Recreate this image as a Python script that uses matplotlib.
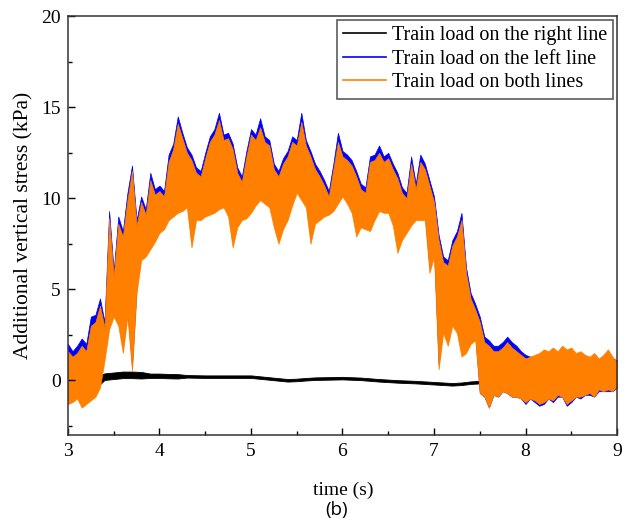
import numpy as np
import matplotlib
matplotlib.use("Agg")
import matplotlib.pyplot as plt

# envelopes, every 0.05 s from 3.00 to 9.00 s
t = np.round(np.arange(3.0, 9.0001, 0.05), 2)

blue_hi = [2.0, 1.6, 1.9, 2.3, 2.0, 3.5, 3.6, 4.5, 3.2, 9.3,
           6.0, 9.0, 8.2, 10.3, 11.8, 8.8, 10.1, 9.4, 11.4, 10.5,
           10.7, 10.4, 12.4, 13.0, 14.5, 13.6, 12.8, 12.4, 11.7, 11.5,
           12.5, 13.4, 13.8, 14.7, 13.5, 13.6, 13.0, 11.7, 11.2, 12.6,
           13.8, 13.5, 14.4, 13.4, 13.2, 11.9, 11.5, 12.2, 12.6, 13.4,
           13.2, 14.7, 13.2, 12.6, 11.9, 11.5, 11.0, 10.4, 11.9, 13.6,
           12.6, 12.4, 12.1, 11.5, 10.8, 10.6, 12.3, 12.4, 12.9, 12.3,
           12.5, 11.9, 11.4, 10.6, 10.3, 12.3, 10.8, 12.4, 11.9, 11.0,
           10.1, 8.0, 6.8, 6.6, 7.7, 8.2, 9.2, 6.2, 4.8, 4.2,
           3.5, 2.4, 2.2, 1.9, 1.9, 2.1, 2.4, 2.1, 1.9, 1.6,
           1.4, 1.3, 1.3, 1.2, 1.3, 1.1, 1.2, 1.0, 1.2, 1.1,
           1.0, 1.1, 1.0, 1.2, 1.0, 0.9, 1.0, 1.1, 1.0, 1.2,
           1.1]

blue_lo = [-1.0, -0.9, -0.8, -1.2, -1.0, -0.8, -0.6, -0.1, 1.4, 3.1,
           3.8, 3.3, 1.8, 3.8, 0.8, 5.1, 6.9, 7.1, 7.5, 7.9,
           8.4, 8.6, 9.1, 9.3, 9.5, 9.6, 9.8, 7.6, 9.1, 9.1,
           9.3, 9.4, 9.5, 9.7, 9.8, 9.3, 7.6, 8.7, 9.1, 9.2,
           9.5, 9.9, 10.2, 10.0, 9.8, 8.7, 7.8, 8.6, 9.1, 9.9,
           10.6, 10.2, 9.8, 7.8, 8.9, 9.1, 9.3, 9.4, 9.6, 10.0,
           10.4, 10.0, 9.5, 8.2, 8.7, 8.6, 8.5, 9.1, 9.6, 9.5,
           9.5, 8.8, 7.3, 8.0, 8.4, 8.8, 9.1, 9.1, 9.1, 6.2,
           7.1, 0.9, 2.9, 2.2, 3.3, 2.9, 1.6, 1.8, 2.3, 2.5,
           -0.7, -0.9, -1.5, -0.8, -0.9, -0.6, -0.7, -0.9, -0.9, -1.0,
           -1.3, -1.0, -1.2, -1.4, -1.3, -1.0, -1.2, -0.9, -0.9, -1.4,
           -1.2, -0.9, -1.0, -0.8, -0.8, -0.9, -0.6, -0.6, -0.6, -0.6,
           -0.4]

orange_hi = [1.6, 1.3, 1.5, 1.9, 1.6, 3.0, 3.2, 4.1, 2.9, 8.9,
             5.7, 8.6, 7.9, 9.9, 11.5, 8.5, 9.8, 9.1, 11.0, 10.2,
             10.4, 10.1, 12.0, 12.7, 14.1, 13.3, 12.5, 12.1, 11.4, 11.2,
             12.2, 13.1, 13.5, 14.3, 13.2, 13.3, 12.7, 11.4, 10.9, 12.3,
             13.5, 13.2, 13.9, 13.1, 12.9, 11.6, 11.2, 11.9, 12.3, 13.1,
             12.9, 14.2, 12.9, 12.3, 11.6, 11.2, 10.7, 10.1, 11.6, 13.1,
             12.3, 12.1, 11.8, 11.2, 10.5, 10.3, 12.0, 12.1, 12.5, 12.0,
             12.2, 11.6, 11.1, 10.3, 10.0, 11.9, 10.5, 12.0, 11.6, 10.7,
             9.8, 7.7, 6.5, 6.3, 7.4, 7.9, 8.8, 5.9, 4.5, 3.9,
             3.2, 2.1, 1.9, 1.6, 1.6, 1.8, 2.1, 1.8, 1.6, 1.4,
             1.2, 1.3, 1.4, 1.5, 1.7, 1.6, 1.8, 1.6, 1.9, 1.7,
             1.8, 1.5, 1.6, 1.4, 1.3, 1.5, 1.2, 1.4, 1.7, 1.3,
             1.0]

orange_lo = [-1.3, -1.2, -1.0, -1.5, -1.3, -1.1, -0.9, -0.4, 1.1, 2.8,
             3.5, 3.0, 1.5, 3.5, 0.5, 4.8, 6.6, 6.8, 7.2, 7.6,
             8.1, 8.3, 8.8, 9.0, 9.2, 9.3, 9.5, 7.3, 8.8, 8.8,
             9.0, 9.1, 9.2, 9.4, 9.5, 9.0, 7.3, 8.4, 8.8, 8.9,
             9.2, 9.6, 9.9, 9.7, 9.5, 8.4, 7.5, 8.3, 8.8, 9.6,
             10.3, 9.9, 9.5, 7.5, 8.6, 8.8, 9.0, 9.1, 9.3, 9.7,
             10.1, 9.7, 9.2, 7.9, 8.4, 8.3, 8.2, 8.8, 9.3, 9.2,
             9.2, 8.5, 7.0, 7.7, 8.1, 8.5, 8.8, 8.8, 8.8, 5.9,
             6.8, 0.6, 2.6, 1.9, 3.0, 2.6, 1.3, 1.5, 2.0, 2.2,
             -0.7, -0.9, -1.5, -0.8, -0.9, -0.6, -0.7, -0.9, -0.9, -1.0,
             -1.2, -1.0, -1.1, -1.3, -1.2, -1.0, -1.1, -0.8, -0.9, -1.3,
             -1.1, -0.9, -0.9, -0.8, -0.7, -0.9, -0.5, -0.6, -0.5, -0.6,
             -0.3]

# right line response, every 0.1 s from 3.0 to 9.0 s
t_black = np.round(np.arange(3.0, 9.0001, 0.1), 1)
black_hi = [0.15, 0.15, 0.05, 0.15, 0.38, 0.43, 0.48, 0.48, 0.46, 0.37,
            0.37, 0.35, 0.34, 0.29, 0.28, 0.27, 0.27, 0.27, 0.27, 0.27,
            0.27, 0.22, 0.17, 0.12, 0.07, 0.09, 0.13, 0.16, 0.17, 0.18,
            0.19, 0.17, 0.15, 0.11, 0.07, 0.04, 0.01, -0.01, -0.03, -0.06,
            -0.09, -0.12, -0.15, -0.12, -0.06, -0.03, 0.07, 0.07, 0.07, 0.07,
            0.07, 0.07, 0.07, 0.07, 0.07, 0.07, 0.07, 0.07, 0.07, 0.07,
            0.07]
black_lo = [-0.15, -0.15, -0.25, -0.45, 0.02, 0.07, 0.12, 0.12, 0.10, 0.13,
            0.13, 0.11, 0.10, 0.15, 0.14, 0.13, 0.13, 0.13, 0.13, 0.13,
            0.13, 0.08, 0.03, -0.02, -0.07, -0.05, -0.01, 0.02, 0.03, 0.04,
            0.05, 0.03, 0.01, -0.03, -0.07, -0.10, -0.13, -0.15, -0.17, -0.20,
            -0.23, -0.26, -0.29, -0.26, -0.20, -0.17, -0.07, -0.07, -0.07, -0.07,
            -0.07, -0.07, -0.07, -0.07, -0.07, -0.07, -0.07, -0.07, -0.07, -0.07,
            -0.07]

labels = ['Train load on the right line', 'Train load on the left line',
          'Train load on both lines']
colors = ['black', '#0000ff', '#ff8000']

plt.rcParams['font.family'] = ['Liberation Serif', 'DejaVu Serif']

fig = plt.figure(figsize=(6.29, 5.24), dpi=100)
ax = fig.add_axes([0.108, 0.170, 0.873, 0.799])

ax.fill_between(t_black, black_lo, black_hi, color=colors[0], lw=0.6)
ax.fill_between(t, blue_lo, blue_hi, color=colors[1], lw=0.5)
ax.fill_between(t, orange_lo, orange_hi, color=colors[2], lw=0.5)

# legend handles
for c, lab in zip(colors, labels):
    ax.plot([], [], color=c, lw=1.2, label=lab)

ax.set_xlim(3, 9)
ax.set_ylim(-3, 20)
ax.set_xticks(np.arange(3, 10, 1))
ax.set_xticks(np.arange(3, 9.01, 0.5), minor=True)
ax.set_yticks([0, 5, 10, 15, 20])
ax.set_yticks(np.arange(-2.5, 20, 2.5), minor=True)
ax.tick_params(which='both', direction='in', labelsize=14, top=False, right=False)
ax.tick_params(which='major', length=5, width=1)
ax.tick_params(which='minor', length=3, width=1)
ax.tick_params(axis='x', pad=6)
ax.tick_params(axis='y', pad=5)
for s in ax.spines.values():
    s.set_color('#333333')
    s.set_linewidth(1.1)

ax.set_ylabel('Additional vertical stress (kPa)', fontsize=15.5, labelpad=6)
fig.text(0.545, 0.064, 'time (s)', fontsize=14, ha='center', va='center')
fig.text(0.535, 0.027, '(b)', fontsize=13.5, ha='center', va='center', family='Open Sans')

leg = ax.legend(loc='upper right', fontsize=14.5, frameon=True, fancybox=False,
                borderaxespad=0.2, handlelength=2.1, handletextpad=0.3,
                labelspacing=0.22, borderpad=0.3)
leg.get_frame().set_edgecolor('#333333')
leg.get_frame().set_linewidth(1.2)

fig.savefig('out.png', dpi=100)
